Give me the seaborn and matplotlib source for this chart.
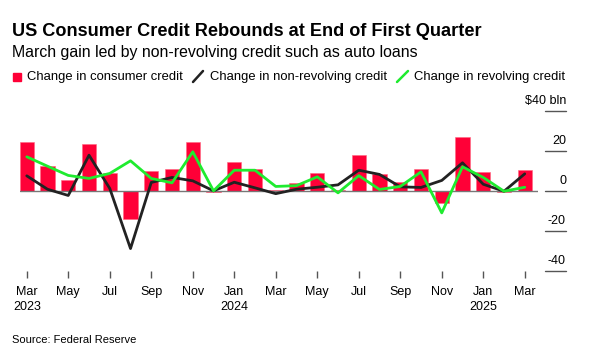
import numpy as np
import pandas as pd
import matplotlib.pyplot as plt
import seaborn as sns
from matplotlib.patches import Rectangle
from matplotlib.lines import Line2D

sns.set_theme(style='white')
plt.rcParams['font.family'] = ['Liberation Sans', 'DejaVu Sans']
plt.rcParams['text.color'] = 'black'
plt.rcParams['xtick.color'] = 'black'

# monthly changes, Mar 2023 - Mar 2025, $ bln
months = ['Mar', 'Apr', 'May', 'Jun', 'Jul', 'Aug', 'Sep', 'Oct', 'Nov', 'Dec',
          'Jan', 'Feb', 'Mar', 'Apr', 'May', 'Jun', 'Jul', 'Aug', 'Sep', 'Oct', 'Nov', 'Dec',
          'Jan', 'Feb', 'Mar']
years = [2023] * 10 + [2024] * 12 + [2025] * 3
consumer = [24.5, 12.5, 5.5, 23.5, 8.8, -13.8, 9.8, 10.7, 24.2, -0.8,
            14.5, 10.7, 0.4, 3.7, 8.7, 0.5, 17.8, 8.3, 4.3, 10.7, -6.0, 26.8,
            9.5, -0.5, 10.3]
nonrevolving = [7.5, 0.8, -2.3, 17.8, 1.2, -28.8, 4.2, 6.7, 5.0, 0.0,
                4.3, 1.5, -1.4, 0.8, 1.8, 3.0, 10.3, 8.2, 2.0, 1.7, 5.2, 14.0,
                3.3, -0.2, 8.5]
revolving = [17.0, 12.3, 7.7, 6.2, 8.7, 15.0, 6.2, 4.0, 19.5, 0.0,
             10.3, 10.3, 2.2, 2.6, 7.0, -1.0, 7.6, 0.7, 2.2, 9.5, -11.0, 12.0,
             6.7, -0.2, 1.8]
yticks = [-40, -20, 0, 20, 40]

df = pd.DataFrame({'idx': np.arange(len(months)), 'month': months, 'year': years,
                   'consumer': consumer, 'nonrevolving': nonrevolving, 'revolving': revolving})

RED = '#FF0037'
GREEN = '#1FEB2F'
BLACK = '#222222'

W, H = 591, 357
fig = plt.figure(figsize=(W / 100, H / 100), dpi=100)
ax = fig.add_axes([19.5 / W, (H - 271) / H, 518.75 / W, 168.3 / H])

sns.barplot(data=df, x='idx', y='consumer', native_scale=True, color=RED, saturation=1,
            width=0.69, edgecolor='#FF6680', linewidth=0.4, ax=ax, zorder=2)
ax.axhline(0, color='#777777', lw=1, zorder=3)
sns.lineplot(data=df, x='idx', y='nonrevolving', color=BLACK, lw=2, ax=ax, zorder=4)
sns.lineplot(data=df, x='idx', y='revolving', color=GREEN, lw=2, ax=ax, zorder=5)

ax.set_xlim(-0.35, 24.65)
ax.set_ylim(-40, 44)
ax.set_xlabel('')
ax.set_ylabel('')
sns.despine(ax=ax, left=True, bottom=True)
ax.set_yticks([])

# x ticks every other month, year under Mar 2023 / Jan 2024 / Jan 2025
tick_pos = df['idx'][::2].tolist()
labels = []
for i in tick_pos:
    m, y = df.loc[i, 'month'], df.loc[i, 'year']
    if i == 0 or m == 'Jan':
        labels.append(f'{m}\n{y}')
    else:
        labels.append(m)
ax.set_xticks(tick_pos)
ax.set_xticklabels(labels, fontsize=9, linespacing=1.35, va='top')
ax.tick_params(axis='x', bottom=True, length=5, width=1, color='#555555', pad=6,
               labelcolor='black', direction='out')

# right-hand y ticks: short lines with labels on top
trans = ax.get_yaxis_transform()
x0, x1 = (545 - 19.5) / 518.75, (566 - 19.5) / 518.75
for v in yticks:
    ax.plot([x0, x1], [v, v], transform=trans, color='#555555', lw=1, clip_on=False)
    lab = '$40 bln' if v == 40 else str(v)
    ax.annotate(lab, xy=(x1, v), xycoords=trans, xytext=(0, 3), textcoords='offset points',
                ha='right', va='bottom', fontsize=9, color='black')

# title, subtitle
fig.text(12 / W, 1 - 31 / H, 'US Consumer Credit Rebounds at End of First Quarter',
         fontsize=13.1, fontweight='bold', va='center', ha='left', color='black')
fig.text(12 / W, 1 - 53 / H, 'March gain led by non-revolving credit such as auto loans',
         fontsize=11.4, va='center', ha='left', color='black')

# legend
ly = 1 - 77 / H
fig.patches.append(Rectangle((13 / W, 1 - 81 / H), 8 / W, 8 / H, transform=fig.transFigure,
                             color=RED, figure=fig))
fig.text(27 / W, ly, 'Change in consumer credit', fontsize=9.4, va='center')
fig.lines.append(Line2D([193 / W, 203 / W], [1 - 82 / H, 1 - 71 / H], transform=fig.transFigure,
                        color=BLACK, lw=1.8, figure=fig))
fig.text(210 / W, ly, 'Change in non-revolving credit', fontsize=9.4, va='center')
fig.lines.append(Line2D([397 / W, 408 / W], [1 - 82 / H, 1 - 71 / H], transform=fig.transFigure,
                        color=GREEN, lw=1.8, figure=fig))
fig.text(414 / W, ly, 'Change in revolving credit', fontsize=9.4, va='center')

fig.text(12 / W, 1 - 340 / H, 'Source: Federal Reserve', fontsize=8, va='center')

fig.savefig('out.png', dpi=100)
